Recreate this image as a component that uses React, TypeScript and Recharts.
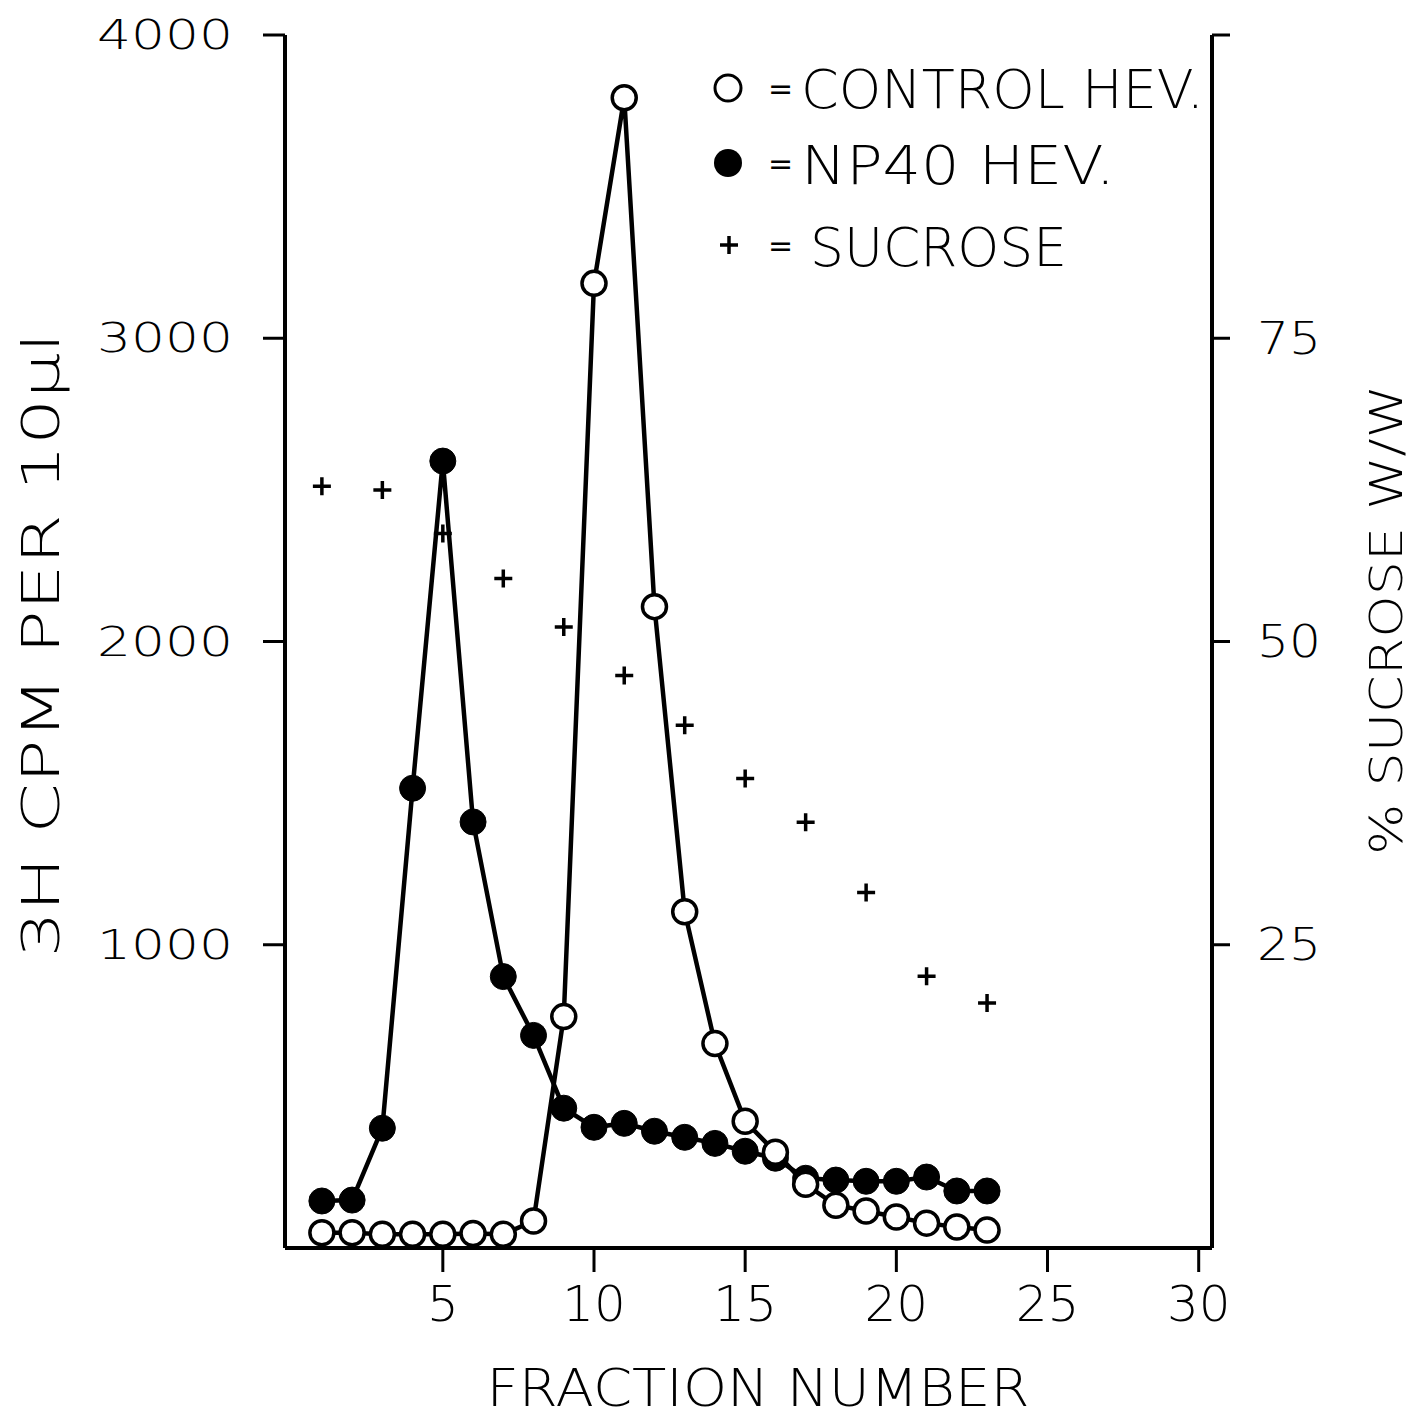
import React from "react";
import {
  ComposedChart,
  Line,
  Scatter,
  XAxis,
  YAxis,
  Legend,
} from "recharts";

// fraction numbers along the gradient
const FRACTIONS = [1, 2, 3, 4, 5, 6, 7, 8, 9, 10, 11, 12, 13, 14, 15, 16, 17, 18, 19, 20, 21, 22, 23];

// 3H cpm per 10 µl, open circles
const CONTROL_HEV = [50, 50, 45, 45, 45, 48, 45, 89, 763, 3181, 3793, 2115, 1109, 674, 418, 316, 210, 141, 122, 102, 82, 69, 59];

// 3H cpm per 10 µl, filled circles
const NP40_HEV = [155, 158, 395, 1516, 2595, 1405, 895, 701, 461, 398, 411, 385, 365, 345, 319, 296, 230, 224, 220, 220, 234, 188, 188];

// % sucrose w/w, measured on odd fractions
const SUCROSE_FRACTIONS = [1, 3, 5, 7, 9, 11, 13, 15, 17, 19, 21, 23];
const SUCROSE = [62.8, 62.5, 58.9, 55.2, 51.2, 47.2, 43.1, 38.7, 35.1, 29.3, 22.4, 20.2];

const X_TICKS = [5, 10, 15, 20, 25, 30];
const CPM_TICKS = [1000, 2000, 3000, 4000];
const SUCROSE_TICKS = [25, 50, 75, 100];

const FONT = "'DejaVu Sans', sans-serif";
const WEIGHT = 200;

const lineRows = FRACTIONS.map((f, i) => ({
  fraction: f,
  control: CONTROL_HEV[i],
  np40: NP40_HEV[i],
}));

const sucroseRows = SUCROSE_FRACTIONS.map((f, i) => ({
  fraction: f,
  sucrose: SUCROSE[i],
}));

function LeftTick({ x, y, payload }: any) {
  const s = String(payload.value);
  return (
    <text
      x={x}
      y={y}
      textAnchor="end"
      dominantBaseline="central"
      fontFamily={FONT}
      fontWeight={WEIGHT}
      fontSize={41}
      textLength={s.length * 34}
      lengthAdjust="spacingAndGlyphs"
      fill="#000"
    >
      {s}
    </text>
  );
}

function RightTick({ x, y, payload }: any) {
  if (payload.value === 100) return <g />;
  const s = String(payload.value);
  return (
    <text
      x={x}
      y={y}
      textAnchor="start"
      dominantBaseline="central"
      fontFamily={FONT}
      fontWeight={WEIGHT}
      fontSize={45}
      textLength={s.length * 32}
      lengthAdjust="spacingAndGlyphs"
      fill="#000"
    >
      {s}
    </text>
  );
}

function BottomTick({ x, y, payload }: any) {
  return (
    <text
      x={x}
      y={y + 24}
      textAnchor="middle"
      dominantBaseline="central"
      fontFamily={FONT}
      fontWeight={WEIGHT}
      fontSize={50}
      fill="#000"
    >
      {payload.value}
    </text>
  );
}

function PlusMark({ cx, cy }: any) {
  return (
    <path
      d={`M${cx - 9},${cy} H${cx + 9} M${cx},${cy - 9} V${cy + 9}`}
      stroke="#000"
      strokeWidth={3.5}
      fill="none"
    />
  );
}

function Key() {
  const txt = { fontFamily: FONT, fontWeight: WEIGHT, fontSize: 53, fill: "#000" };
  const eq = { fontFamily: FONT, fontWeight: 400, fontSize: 30, fill: "#000" };
  return (
    <svg width={520} height={240} style={{ display: "block" }}>
      <circle cx={20} cy={40} r={13} fill="#fff" stroke="#000" strokeWidth={3} />
      <text x={60} y={51} {...eq}>=</text>
      <text x={93} y={60} {...txt} textLength={403} lengthAdjust="spacingAndGlyphs">
        CONTROL HEV.
      </text>

      <circle cx={20} cy={115} r={14} fill="#000" />
      <text x={60} y={126} {...eq}>=</text>
      <text x={93} y={136} {...txt} textLength={314} lengthAdjust="spacingAndGlyphs">
        NP40  HEV.
      </text>

      <path d="M12,197 H30 M21,188 V206" stroke="#000" strokeWidth={3.5} />
      <text x={60} y={208} {...eq}>=</text>
      <text x={102} y={218} {...txt} textLength={257} lengthAdjust="spacingAndGlyphs">
        SUCROSE
      </text>
    </svg>
  );
}

export default function App() {
  return (
    <div style={{ width: 1416, height: 1411, background: "#fff" }}>
      <ComposedChart
        width={1416}
        height={1411}
        data={lineRows}
        margin={{ top: 27, right: 0, bottom: 0, left: 0 }}
      >
        <XAxis
          dataKey="fraction"
          type="number"
          domain={[-0.22, 30.44]}
          ticks={X_TICKS}
          height={171}
          axisLine={{ stroke: "#000", strokeWidth: 4 }}
          tickLine={{ stroke: "#000", strokeWidth: 3 }}
          tickSize={24}
          tickMargin={8}
          tick={<BottomTick />}
          interval={0}
          label={() => (
            <text
              x={750}
              y={1398}
              textAnchor="middle"
              fontFamily={FONT}
              fontWeight={WEIGHT}
              fontSize={52}
              textLength={543}
              lengthAdjust="spacingAndGlyphs"
              fill="#000"
            >
              FRACTION NUMBER
            </text>
          )}
        />
        <YAxis
          yAxisId="left"
          orientation="left"
          domain={[0, 4000]}
          ticks={CPM_TICKS}
          width={277}
          axisLine={{ stroke: "#000", strokeWidth: 4 }}
          tickLine={{ stroke: "#000", strokeWidth: 3 }}
          tickSize={22}
          tickMargin={30}
          tick={<LeftTick />}
          interval={0}
          label={() => (
            <text
              x={33}
              y={637}
              transform="rotate(-90 33 637)"
              textAnchor="middle"
              dominantBaseline="central"
              fontFamily={FONT}
              fontWeight={WEIGHT}
              fontSize={52}
              textLength={625}
              lengthAdjust="spacingAndGlyphs"
              fill="#000"
            >
              3H CPM PER 10µl
            </text>
          )}
        />
        <YAxis
          yAxisId="right"
          orientation="right"
          domain={[0, 100]}
          ticks={SUCROSE_TICKS}
          width={212}
          axisLine={{ stroke: "#000", strokeWidth: 4 }}
          tickLine={{ stroke: "#000", strokeWidth: 3 }}
          tickSize={18}
          tickMargin={27}
          tick={<RightTick />}
          interval={0}
          label={() => (
            <text
              x={1378}
              y={612}
              transform="rotate(-90 1378 612)"
              textAnchor="middle"
              dominantBaseline="central"
              fontFamily={FONT}
              fontWeight={WEIGHT}
              fontSize={44}
              textLength={470}
              lengthAdjust="spacingAndGlyphs"
              fill="#000"
            >
              % SUCROSE W/W
            </text>
          )}
        />
        <Legend
          layout="vertical"
          align="center"
          verticalAlign="middle"
          wrapperStyle={{ top: 40, left: 700, width: 520 }}
          content={() => <Key />}
        />
        <Line
          yAxisId="left"
          dataKey="np40"
          name="NP40 HEV."
          stroke="#000"
          strokeWidth={4.5}
          dot={{ r: 13, fill: "#000", stroke: "#000", strokeWidth: 1 }}
          isAnimationActive={false}
        />
        <Line
          yAxisId="left"
          dataKey="control"
          name="CONTROL HEV."
          stroke="#000"
          strokeWidth={4.5}
          dot={{ r: 12, fill: "#fff", stroke: "#000", strokeWidth: 3.5 }}
          isAnimationActive={false}
        />
        <Scatter
          yAxisId="right"
          data={sucroseRows}
          dataKey="sucrose"
          name="SUCROSE"
          shape={<PlusMark />}
          isAnimationActive={false}
        />
      </ComposedChart>
    </div>
  );
}
